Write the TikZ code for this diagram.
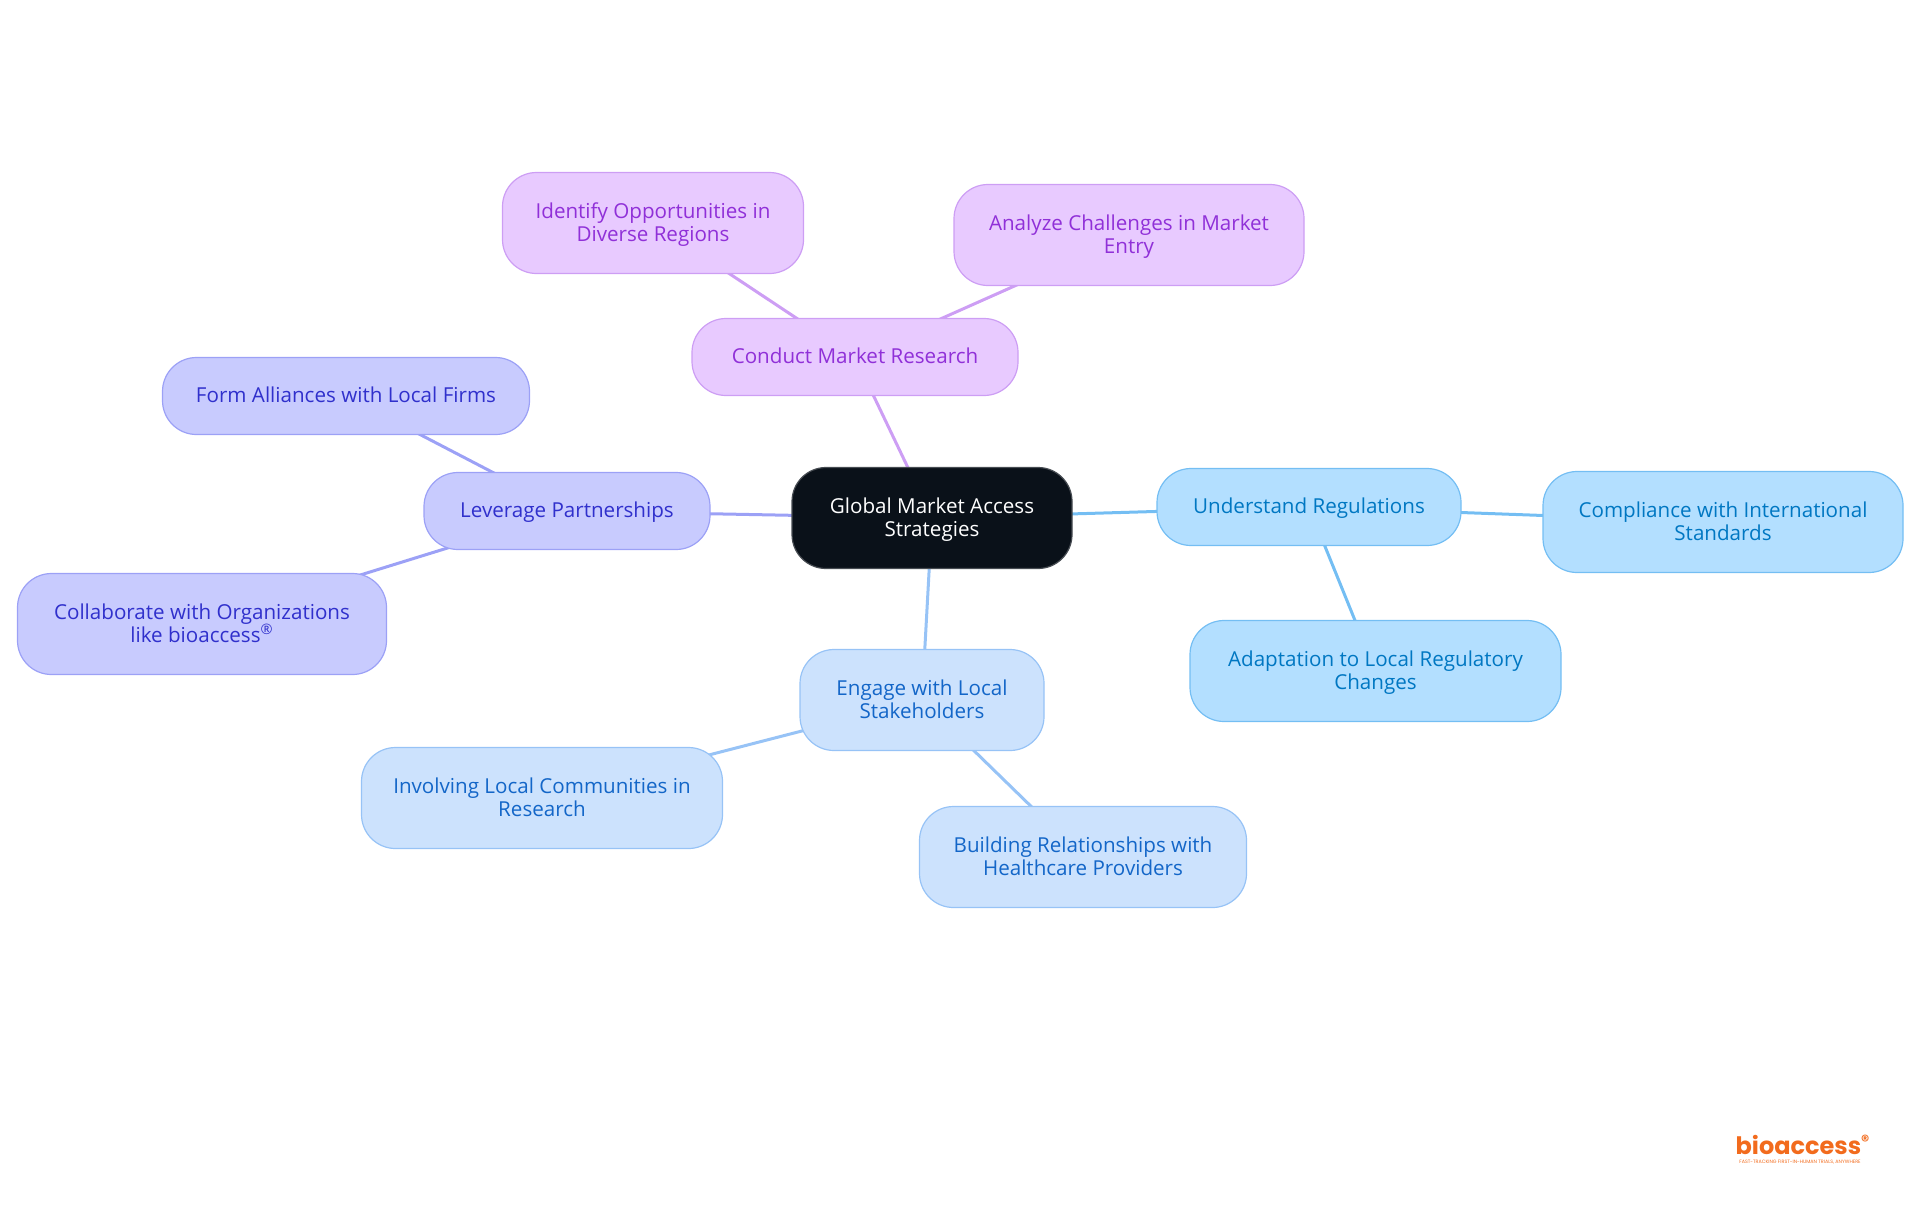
\documentclass[tikz,border=0pt]{standalone}
\usepackage{fontspec}
\setmainfont{Open Sans}
\newfontfamily\logofont{Poppins}
\usetikzlibrary{backgrounds}

\definecolor{rootfill}{HTML}{0A1119}
\definecolor{regfill}{HTML}{B3DFFF}
\definecolor{regline}{HTML}{74BEF3}
\definecolor{regtext}{HTML}{0077C2}
\definecolor{engfill}{HTML}{CCE2FD}
\definecolor{engline}{HTML}{97C3F6}
\definecolor{engtext}{HTML}{1366C8}
\definecolor{levfill}{HTML}{C8CBFE}
\definecolor{levline}{HTML}{9CA1F6}
\definecolor{levtext}{HTML}{3030CC}
\definecolor{marfill}{HTML}{E8CAFF}
\definecolor{marline}{HTML}{CD9EF4}
\definecolor{martext}{HTML}{9030D8}
\definecolor{logoorange}{HTML}{F26B1D}

\tikzset{
	topic/.style={rounded corners=17pt,align=center,inner sep=0pt,line width=0.6pt,text depth=1.2pt,font=\fontsize{10.3}{11.6}\selectfont},
	low/.style={minimum height=38.5pt},
	high/.style={minimum height=50.5pt},
	root/.style={topic,high,fill=rootfill,draw=rootfill!75!white,text=white},
	reg/.style={topic,fill=regfill,draw=regline,text=regtext},
	eng/.style={topic,fill=engfill,draw=engline,text=engtext},
	lev/.style={topic,fill=levfill,draw=levline,text=levtext},
	mar/.style={topic,fill=marfill,draw=marline,text=martext},
	link/.style={line width=1.5pt}
}

\begin{document}
\begin{tikzpicture}[x=0.5pt,y=-0.5pt]
		\useasboundingbox (0,0) rectangle (1920,1215);

		% The centre
		\node[root,minimum width=140pt] (global) at (932,518) {Global Market Access\\Strategies};

		% The regulations branch
		\node[reg,low,minimum width=152pt] (regulations) at (1309,507) {Understand Regulations};
		\node[reg,high,minimum width=180pt] (compliance) at (1723,522) {Compliance with International\\Standards};
		\node[reg,high,minimum width=185.5pt] (adaptation) at (1375.5,671) {Adaptation to Local Regulatory\\Changes};

		% The stakeholders branch
		\node[eng,high,minimum width=122pt] (engage) at (922,700) {Engage with Local\\Stakeholders};
		\node[eng,high,minimum width=180.5pt] (involving) at (542,798) {Involving Local Communities in\\Research};
		\node[eng,high,minimum width=163.5pt] (building) at (1083,857) {Building Relationships with\\Healthcare Providers};

		% The partnerships branch
		\node[lev,low,minimum width=143pt] (leverage) at (567,511) {Leverage Partnerships};
		\node[lev,low,minimum width=183.5pt] (alliances) at (346,396) {Form Alliances with Local Firms};
		\node[lev,high,minimum width=184.5pt] (collaborate) at (202,624) {Collaborate with Organizations\\like bioaccess\textsuperscript{®}};

		% The research branch
		\node[mar,low,minimum width=163pt] (research) at (855,357) {Conduct Market Research};
		\node[mar,high,minimum width=150.5pt] (identify) at (653,223) {Identify Opportunities in\\Diverse Regions};
		\node[mar,high,minimum width=175pt] (analyze) at (1129,235) {Analyze Challenges in Market\\Entry};

		% The links
		\begin{pgfonlayer}{background}
			\foreach \from/\to/\col in {global/regulations/regline,regulations/compliance/regline,regulations/adaptation/regline,
				global/engage/engline,engage/involving/engline,engage/building/engline,
				global/leverage/levline,leverage/alliances/levline,leverage/collaborate/levline,
				global/research/marline,research/identify/marline,research/analyze/marline}
			{
				\draw[link,color=\col] (\from.center) -- (\to.center);
			}
		\end{pgfonlayer}

		% The logo
		\node[inner sep=0pt,text=logoorange,font=\logofont\bfseries\fontsize{12}{13}\selectfont] (logo) at (1803,1145) {bioaccess\textsuperscript{®}};
		\node[inner sep=0pt,text=logoorange,font=\logofont\fontsize{2.4}{3}\selectfont] (tagline) at (1800,1162) {FAST-TRACKING FIRST-IN-HUMAN TRIALS, ANYWHERE};
	\end{tikzpicture}
\end{document}
